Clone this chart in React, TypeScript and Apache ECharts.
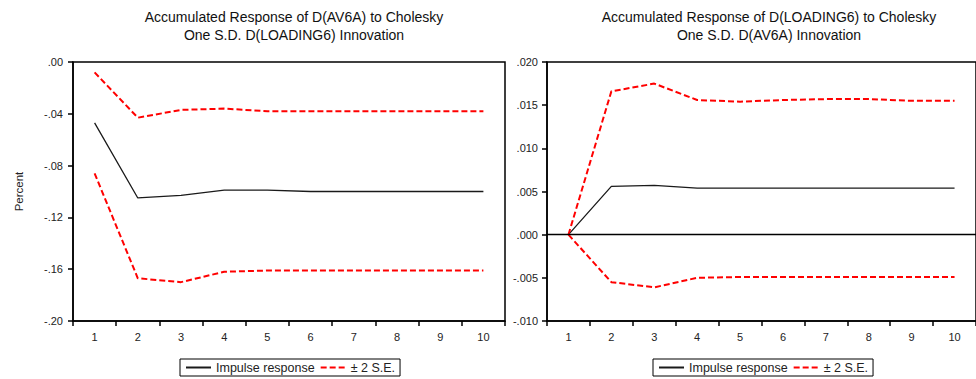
import React, { useEffect, useRef } from "react";
import * as echarts from "echarts";

const periods = ["1", "2", "3", "4", "5", "6", "7", "8", "9", "10"];

// Left panel: Accumulated Response of D(AV6A) to D(LOADING6)
const leftImpulse = [-0.047, -0.105, -0.103, -0.099, -0.099, -0.1, -0.1, -0.1, -0.1, -0.1];
const leftUpper = [-0.008, -0.043, -0.037, -0.036, -0.038, -0.038, -0.038, -0.038, -0.038, -0.038];
const leftLower = [-0.086, -0.167, -0.17, -0.162, -0.161, -0.161, -0.161, -0.161, -0.161, -0.161];

// Right panel: Accumulated Response of D(LOADING6) to D(AV6A)
const rightImpulse = [0, 0.0056, 0.0057, 0.0054, 0.0054, 0.0054, 0.0054, 0.0054, 0.0054, 0.0054];
const rightUpper = [0, 0.0166, 0.0175, 0.0156, 0.0154, 0.0156, 0.0157, 0.0157, 0.0155, 0.0155];
const rightLower = [0, -0.0055, -0.0061, -0.005, -0.0049, -0.0049, -0.0049, -0.0049, -0.0049, -0.0049];

const leftTitle = "Accumulated Response of D(AV6A) to Cholesky\nOne S.D. D(LOADING6) Innovation";
const rightTitle = "Accumulated Response of D(LOADING6) to Cholesky\nOne S.D. D(AV6A) Innovation";
const impulseName = "Impulse response";
const seName = "\u00B1 2 S.E.";

const FONT = "'Liberation Sans', Arial, Helvetica, sans-serif";

function fmt(v: number, d: number) {
  let s = Math.abs(v) < 1e-12 ? (0).toFixed(d) : v.toFixed(d);
  s = s.replace(/^(-?)0\./, "$1.");
  return s;
}

export default function App() {
  const ref = useRef<HTMLDivElement>(null);
  useEffect(() => {
    if (!ref.current) return;
    const chart = echarts.init(ref.current, undefined, { renderer: "svg" });

    const xAxisBase = (gridIndex: number) => ({
      type: "category" as const,
      gridIndex,
      data: periods,
      boundaryGap: true,
      axisLine: { onZero: false, lineStyle: { color: "#000", width: 1.5 } },
      axisTick: { show: true, length: 5, inside: false, lineStyle: { color: "#000", width: 1.5 } },
      axisLabel: { color: "#222", fontSize: 11, fontFamily: FONT, margin: 10, interval: 0 },
      splitLine: { show: false },
    });

    const redLine = { color: "#ff0000", width: 2, type: [6, 3] as number[] };
    const blackLine = { color: "#1a1a1a", width: 1.3, type: "solid" as const };

    const legendBase = (left: number) => ({
      left,
      top: 359,
      padding: [2, 5],
      itemGap: 5,
      itemWidth: 25,
      itemHeight: 14,
      borderColor: "#000",
      borderWidth: 1,
      data: [impulseName, seName],
      itemStyle: { opacity: 0 },
      textStyle: { fontSize: 12.5, color: "#222", fontFamily: FONT },
      selectedMode: false,
    });

    chart.setOption({
      animation: false,
      backgroundColor: "#fff",
      title: [
        {
          text: leftTitle,
          left: 289,
          top: 3,
          textAlign: "center",
          textStyle: { fontSize: 14, fontWeight: "normal", color: "#111", fontFamily: FONT, lineHeight: 18 },
        },
        {
          text: rightTitle,
          left: 764,
          top: 3,
          textAlign: "center",
          textStyle: { fontSize: 14, fontWeight: "normal", color: "#111", fontFamily: FONT, lineHeight: 18 },
        },
      ],
      legend: [legendBase(180), legendBase(653)],
      grid: [
        { left: 73, top: 62, width: 432, height: 259, show: true, borderColor: "#000", borderWidth: 1.5, backgroundColor: "transparent" },
        { left: 547, top: 62, width: 433, height: 259, show: true, borderColor: "#000", borderWidth: 1.5, backgroundColor: "transparent" },
      ],
      xAxis: [xAxisBase(0), xAxisBase(1)],
      yAxis: [
        {
          type: "value",
          gridIndex: 0,
          min: -0.2,
          max: 0,
          interval: 0.04,
          name: "Percent",
          nameLocation: "middle",
          nameRotate: 90,
          nameGap: 48,
          nameTextStyle: { fontSize: 11.5, color: "#222", fontFamily: FONT },
          axisLine: { show: true, lineStyle: { color: "#000", width: 1.5 } },
          axisTick: { show: true, length: 5, lineStyle: { color: "#000", width: 1.5 } },
          axisLabel: { color: "#222", fontSize: 11, fontFamily: FONT, margin: 10, formatter: (v: number) => fmt(v, 2) },
          splitLine: { show: false },
        },
        {
          type: "value",
          gridIndex: 1,
          min: -0.01,
          max: 0.02,
          interval: 0.005,
          axisLine: { show: true, lineStyle: { color: "#000", width: 1.5 } },
          axisTick: { show: true, length: 5, lineStyle: { color: "#000", width: 1.5 } },
          axisLabel: { color: "#222", fontSize: 11, fontFamily: FONT, margin: 9, formatter: (v: number) => fmt(v, 3) },
          splitLine: { show: false },
        },
      ],
      series: [
        {
          name: impulseName,
          type: "line",
          xAxisIndex: 0,
          yAxisIndex: 0,
          data: leftImpulse,
          symbol: "none",
          color: "#1a1a1a",
          lineStyle: blackLine,
        },
        {
          name: seName,
          type: "line",
          xAxisIndex: 0,
          yAxisIndex: 0,
          data: leftUpper,
          symbol: "none",
          color: "#ff0000",
          lineStyle: redLine,
        },
        {
          name: seName,
          type: "line",
          xAxisIndex: 0,
          yAxisIndex: 0,
          data: leftLower,
          symbol: "none",
          color: "#ff0000",
          lineStyle: redLine,
        },
        {
          name: impulseName,
          type: "line",
          xAxisIndex: 1,
          yAxisIndex: 1,
          data: rightImpulse,
          symbol: "none",
          color: "#1a1a1a",
          lineStyle: blackLine,
          markLine: {
            silent: true,
            symbol: "none",
            label: { show: false },
            lineStyle: { color: "#000", width: 1.3, type: "solid" },
            data: [{ yAxis: 0 }],
          },
        },
        {
          name: seName,
          type: "line",
          xAxisIndex: 1,
          yAxisIndex: 1,
          data: rightUpper,
          symbol: "none",
          color: "#ff0000",
          lineStyle: redLine,
        },
        {
          name: seName,
          type: "line",
          xAxisIndex: 1,
          yAxisIndex: 1,
          data: rightLower,
          symbol: "none",
          color: "#ff0000",
          lineStyle: redLine,
        },
      ],
    });
    return () => chart.dispose();
  }, []);

  return (
    <div
      ref={ref}
      style={{ position: "absolute", left: 0, top: 0, width: 976, height: 379, background: "#fff" }}
    />
  );
}
